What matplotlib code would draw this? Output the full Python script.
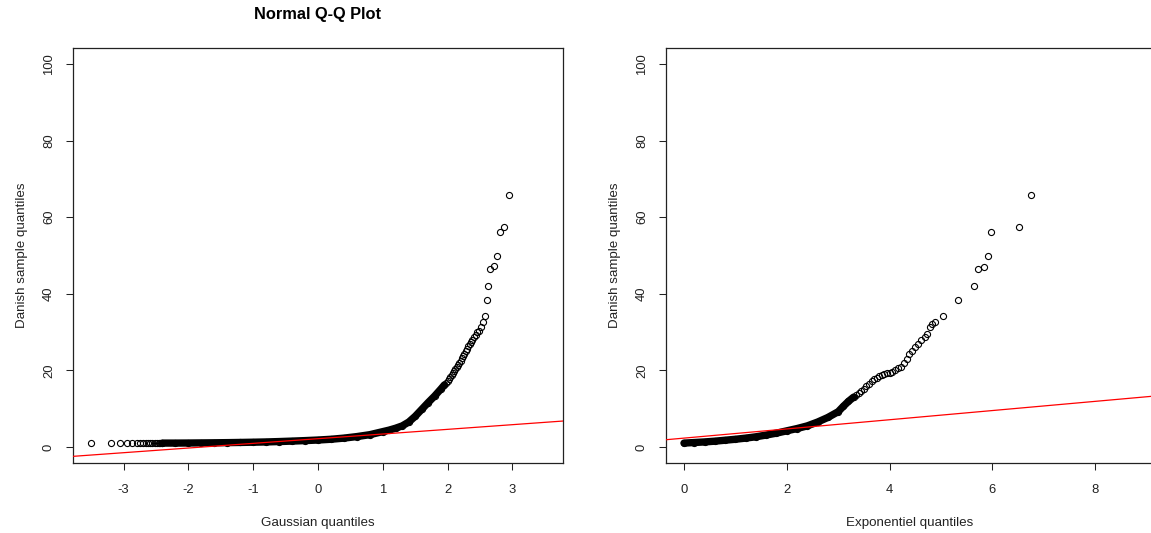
import matplotlib
matplotlib.use("Agg")
import matplotlib.pyplot as plt

plt.rcParams['font.family'] = ['Liberation Sans', 'DejaVu Sans']

# ---------------- Left panel: Normal Q-Q ----------------
left_low_x = [-3.50, -3.20, -3.05, -2.945, -2.865, -2.80, -2.748, -2.70, -2.66,
              -2.62, -2.585, -2.555, -2.52, -2.49, -2.46, -2.43, -2.40]
left_low_y = [1.0] * 17

left_dense_x = [-2.40, -2.2, -2.0, -1.8, -1.6, -1.4, -1.2, -1.0, -0.8, -0.6, -0.4,
                -0.2, 0.0, 0.2, 0.4, 0.6, 0.8, 1.0, 1.1, 1.2, 1.3, 1.4, 1.5, 1.6,
                1.7, 1.8, 1.9, 1.95]
left_dense_y = [1.0, 1.0, 1.02, 1.05, 1.08, 1.12, 1.17, 1.23, 1.3, 1.4, 1.52,
                1.65, 1.8, 2.0, 2.3, 2.7, 3.2, 4.0, 4.4, 4.9, 5.5, 6.5, 8.0, 9.8,
                11.6, 13.3, 15.2, 16.2]

left_tail_x = [1.98, 2.0, 2.02, 2.04, 2.06, 2.08, 2.10, 2.12, 2.14, 2.16, 2.18,
               2.20, 2.22, 2.24, 2.26, 2.28, 2.30, 2.32, 2.34, 2.36, 2.38, 2.40,
               2.43, 2.45, 2.48, 2.51, 2.54, 2.57, 2.60, 2.63, 2.65, 2.72, 2.76,
               2.81, 2.875, 2.95]
left_tail_y = [16.8, 17.2, 17.8, 18.3, 18.8, 19.3, 19.8, 20.3, 20.8, 21.3, 21.9,
               22.5, 23.1, 23.7, 24.4, 25.0, 25.6, 26.3, 26.9, 27.5, 28.0, 28.6,
               29.2, 30.0, 30.4, 31.4, 32.6, 34.2, 38.3, 42.1, 46.5, 47.2, 50.0,
               56.1, 57.4, 65.8]

left_line_intercept = 2.15
left_line_slope = 1.22
left_xticks = [-3, -2, -1, 0, 1, 2, 3]

# ---------------- Right panel: Exponential Q-Q ----------------
right_dense_x = [0.0, 0.2, 0.4, 0.6, 0.8, 1.0, 1.2, 1.4, 1.6, 1.8, 2.0, 2.2, 2.4,
                 2.6, 2.8, 3.0, 3.1, 3.2, 3.3]
right_dense_y = [1.0, 1.15, 1.3, 1.5, 1.75, 2.0, 2.3, 2.65, 3.1, 3.6, 4.2, 4.8,
                 5.5, 6.5, 7.7, 9.2, 10.6, 11.9, 13.0]

right_tail_x = [3.35, 3.4, 3.45, 3.5, 3.55, 3.6, 3.65, 3.7, 3.75, 3.8, 3.85, 3.9,
                3.95, 4.0, 4.05, 4.1, 4.17, 4.22, 4.28, 4.33, 4.38, 4.43, 4.5,
                4.56, 4.62, 4.68, 4.72, 4.78, 4.82, 4.88, 5.04, 5.33, 5.65, 5.73,
                5.83, 5.92, 5.97, 6.52, 6.745]
right_tail_y = [13.5, 14.1, 14.6, 15.1, 15.8, 16.5, 17.2, 17.7, 18.0, 18.5, 18.9,
                19.1, 19.3, 19.4, 19.7, 20.1, 20.5, 21.0, 21.8, 23.0, 24.2, 25.0,
                26.0, 27.0, 27.8, 28.6, 29.5, 31.2, 32.2, 32.5, 34.2, 38.3, 42.1,
                46.5, 47.1, 50.0, 56.2, 57.4, 65.8]

right_line_intercept = 2.3
right_line_slope = 1.2
right_xticks = [0, 2, 4, 6, 8]

y_ticks = [0, 20, 40, 60, 80, 100]
y_label = "Danish sample quantiles"

W, H = 1151, 533
fig = plt.figure(figsize=(W / 100, H / 100), dpi=100)
ax1 = fig.add_axes([73 / W, 70 / H, 490 / W, 415 / H])
ax2 = fig.add_axes([666 / W, 70 / H, 486.7 / W, 415 / H])

mk = dict(marker='o', markersize=4.4, markerfacecolor='none',
          markeredgecolor='black', markeredgewidth=0.8, linestyle='none')


def draw(ax, dense_x, dense_y, tails, a, b):
    ax.plot(dense_x, dense_y, color='black', lw=5.3, solid_capstyle='round',
            solid_joinstyle='round', zorder=2)
    ax.plot(dense_x, dense_y, zorder=3, **mk)
    for tx, ty in tails:
        ax.plot(tx, ty, zorder=3, **mk)
    ax.axline((0, a), slope=b, color='red', lw=0.9, zorder=4)


def style(ax, xticks, xlabel, xlim):
    ax.set_xlim(*xlim)
    ax.set_ylim(-4.2, 104.2)
    ax.set_xticks(xticks)
    ax.set_xticklabels([str(t) for t in xticks])
    ax.set_yticks(y_ticks)
    ax.set_yticklabels([str(t) for t in y_ticks], rotation=90, va='center')
    ax.tick_params(axis='both', direction='out', length=5, width=0.75,
                   labelsize=9.4, colors='#222222')
    ax.tick_params(axis='x', pad=10)
    ax.tick_params(axis='y', pad=8)
    for s in ax.spines.values():
        s.set_linewidth(0.9)
        s.set_color('#222222')
    ax.set_xlabel(xlabel, fontsize=9.6, labelpad=15, color='#222222')
    ax.set_ylabel(y_label, fontsize=9.6, labelpad=11, color='#222222')


draw(ax1, left_dense_x, left_dense_y,
     [(left_low_x, left_low_y), (left_tail_x, left_tail_y)],
     left_line_intercept, left_line_slope)
style(ax1, left_xticks, "Gaussian quantiles", (-3.78, 3.78))

draw(ax2, right_dense_x, right_dense_y, [(right_tail_x, right_tail_y)],
     right_line_intercept, right_line_slope)
style(ax2, right_xticks, "Exponentiel quantiles", (-0.35, 9.12))

fig.text(318 / W, 1 - 15 / H, "Normal Q-Q Plot", ha='center', va='center',
         fontsize=11.8, fontweight='bold')

fig.savefig("out.png", dpi=100)
